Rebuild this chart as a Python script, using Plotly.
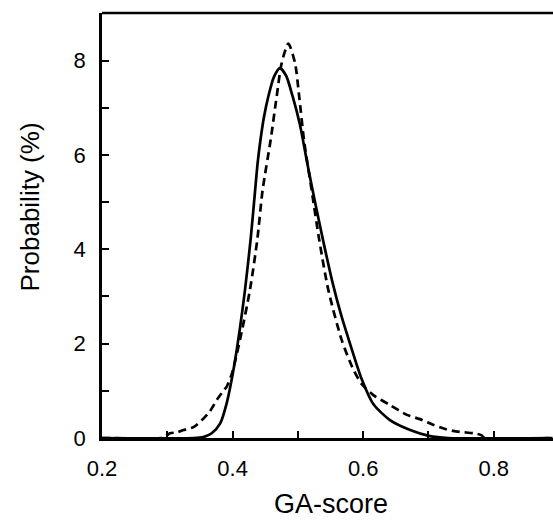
import plotly.graph_objects as go

# Solid curve (GA-score vs probability %)
solid_x = [0.20, 0.34, 0.355, 0.368, 0.381, 0.391, 0.401, 0.411, 0.419, 0.4277, 0.4343,
           0.4385, 0.443, 0.448, 0.4547, 0.4635, 0.4726, 0.482, 0.492, 0.503, 0.515,
           0.527, 0.540, 0.553, 0.566, 0.5787, 0.5977, 0.6155, 0.641, 0.672, 0.702,
           0.73, 0.89]
solid_y = [0.0, 0.0, 0.02, 0.10, 0.31, 0.74, 1.42, 2.30, 3.14, 4.22, 5.22,
           5.85, 6.35, 6.80, 7.24, 7.66, 7.84, 7.68, 7.24, 6.65, 5.78,
           4.95, 4.10, 3.30, 2.62, 2.05, 1.25, 0.72, 0.38, 0.17, 0.04,
           0.0, 0.0]

# Dashed curve
dashed_x = [0.20, 0.29, 0.297, 0.304, 0.315, 0.325, 0.340, 0.353, 0.365, 0.376, 0.386,
            0.391, 0.399, 0.4113, 0.4266, 0.4378, 0.446, 0.4583, 0.4675, 0.4752, 0.4854,
            0.4956, 0.502, 0.5093, 0.521, 0.5327, 0.5466, 0.567, 0.585, 0.598, 0.6155,
            0.641, 0.667, 0.687, 0.707, 0.728, 0.748, 0.769, 0.781, 0.786, 0.89]
dashed_y = [0.0, 0.0, 0.03, 0.10, 0.12, 0.17, 0.23, 0.38, 0.56, 0.81, 1.00,
            1.09, 1.37, 2.08, 3.14, 4.20, 5.26, 6.32, 7.24, 7.95, 8.36,
            7.95, 7.24, 6.32, 5.26, 4.20, 3.14, 2.08, 1.45, 1.14, 0.91,
            0.70, 0.49, 0.40, 0.28, 0.18, 0.13, 0.10, 0.06, 0.0, 0.0]

x_tickvals = [0.2, 0.3, 0.4, 0.5, 0.6, 0.7, 0.8]
x_ticktext = ["0.2", "", "0.4", "", "0.6", "", "0.8"]
y_tickvals = [0, 1, 2, 3, 4, 5, 6, 7, 8]
y_ticktext = ["0", "", "2", "", "4", "", "6", "", "8"]
x_title = "GA-score"
y_title = "Probability (%)"

fig = go.Figure()
fig.add_trace(go.Scatter(x=solid_x, y=solid_y, mode="lines",
                         line=dict(color="black", width=2.7, shape="spline", smoothing=0.7),
                         showlegend=False, hoverinfo="skip"))
fig.add_trace(go.Scatter(x=dashed_x, y=dashed_y, mode="lines",
                         line=dict(color="black", width=2.7, dash="8px,5px", shape="spline", smoothing=0.7),
                         showlegend=False, hoverinfo="skip"))

font_family = "Liberation Sans, Arial, sans-serif"
fig.update_layout(
    width=553, height=521,
    margin=dict(l=102, r=0, t=13, b=83),
    paper_bgcolor="white", plot_bgcolor="white",
    font=dict(family=font_family, color="black"),
    xaxis=dict(range=[0.2, 0.8907], tickvals=x_tickvals, ticktext=x_ticktext,
               ticks="inside", ticklen=7, tickwidth=1.5, tickcolor="black",
               showline=True, linecolor="black", linewidth=2.7, mirror=False,
               showgrid=False, zeroline=False, ticklabelstandoff=9,
               tickfont=dict(size=22, family=font_family)),
    yaxis=dict(range=[0, 9.01], tickvals=y_tickvals, ticktext=y_ticktext,
               ticks="inside", ticklen=7, tickwidth=1.5, tickcolor="black",
               showline=True, linecolor="black", linewidth=2.5, mirror=False,
               showgrid=False, zeroline=False, ticklabelstandoff=9,
               tickfont=dict(size=22, family=font_family)),
    shapes=[dict(type="line", xref="paper", yref="paper", x0=0, x1=1, y0=1, y1=1,
                 line=dict(color="black", width=2.5))],
    annotations=[
        dict(text=x_title, xref="paper", yref="paper", x=0.5067, y=-0.155,
             xanchor="center", yanchor="middle", showarrow=False,
             font=dict(size=27, family=font_family, color="black")),
        dict(text=y_title, xref="paper", yref="paper", x=-0.1596, y=0.5424,
             xanchor="center", yanchor="middle", showarrow=False, textangle=-90,
             font=dict(size=26, family=font_family, color="black")),
    ],
)

fig.write_html("out.html", config={"displayModeBar": False},
               post_script="document.body.style.margin='0';document.body.style.overflow='hidden';")
